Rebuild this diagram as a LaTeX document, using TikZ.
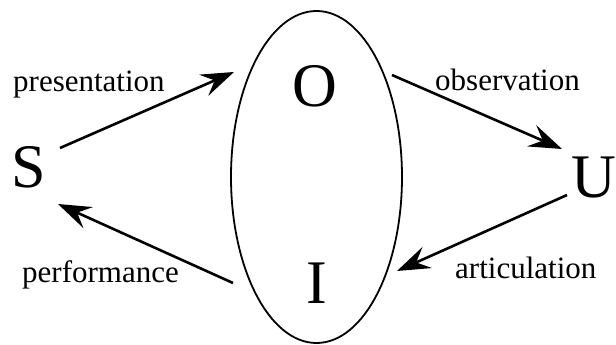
\documentclass[tikz,border=0pt]{standalone}
\usepackage{fontspec}
\setmainfont{Liberation Serif}
\usetikzlibrary{arrows.meta}
\begin{document}
\begin{tikzpicture}[x=1pt,y=-1pt,
  big/.style={inner sep=0pt,font=\fontsize{62}{62}\selectfont},
  lbl/.style={inner sep=0pt,anchor=base west,font=\fontsize{31}{31}\selectfont},
  arr/.style={line width=2.6pt,-{Stealth[length=33pt,width=23pt,inset=12pt]}}]
\useasboundingbox (0,0) rectangle (616,345);
\draw[line width=1.8pt] (316.5,177) ellipse [x radius=85.5, y radius=166];
\node[big,anchor=base west] (S) at (11,187) {S};
\node[big,anchor=base west] (U) at (571,197) {U};
\node[big] (O) at (315,86) {O};
\node[big,anchor=base] (I) at (317,303) {I};
\node[lbl] (lp) at (13,92) {presentation};
\node[lbl] (lo) at (435,90) {observation};
\node[lbl] (lf) at (22,282) {performance};
\node[lbl] (la) at (455,278) {articulation};
\coordinate (s1) at (60,148);
\coordinate (e1) at (234,72);
\coordinate (s2) at (392,75);
\coordinate (e2) at (562,149);
\coordinate (s3) at (233,283);
\coordinate (e3) at (58,204);
\coordinate (s4) at (567,195);
\coordinate (e4) at (397,271);
\draw[arr] (s1) -- (e1);
\draw[arr] (s2) -- (e2);
\draw[arr] (s3) -- (e3);
\draw[arr] (s4) -- (e4);
\end{tikzpicture}
\end{document}
